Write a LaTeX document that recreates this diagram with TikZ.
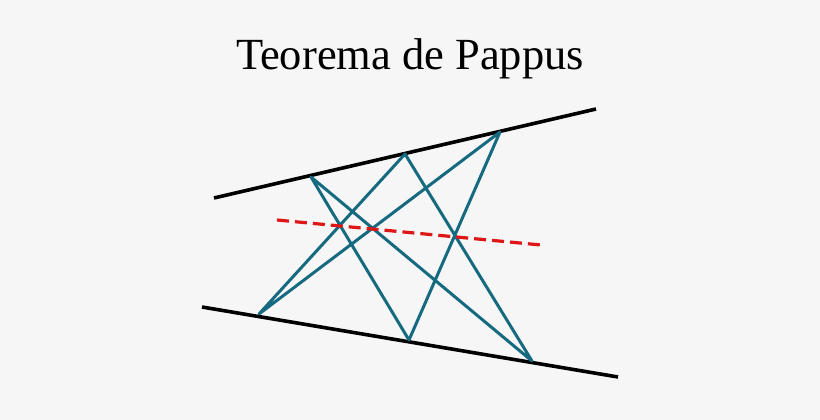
\documentclass[tikz,border=0pt]{standalone}
\usepackage{fontspec}
\setmainfont{Liberation Serif}
\definecolor{fondo}{RGB}{246,246,246}
\definecolor{azul}{RGB}{22,106,128}
\definecolor{rojo}{RGB}{222,22,22}
\begin{document}
\begin{tikzpicture}[x=1pt,y=-1pt]
    \fill [fondo] (0,0) rectangle (820,420);
    \useasboundingbox (0,0) rectangle (820,420);
    \node (titulo) at (410,59) {\fontsize{44.5}{52}\selectfont Teorema de Pappus};
    % rectas
    \coordinate (R1) at (214,198);
    \coordinate (R2) at (596,109);
    \coordinate (S1) at (202,307);
    \coordinate (S2) at (618,377);
    \draw [line width = 3.6] (R1) -- (R2);
    \draw [line width = 3.6] (S1) -- (S2);
    % puntos
    \coordinate (A1) at (311,177);
    \coordinate (A2) at (405,154);
    \coordinate (A3) at (500,132);
    \coordinate (B1) at (259,314);
    \coordinate (B2) at (409,340);
    \coordinate (B3) at (532,361);
    \draw [azul, line width = 3, line join = round] (B2) -- (A1) -- (B3) -- (A2) -- (B1) -- (A3) -- cycle;
    % recta de Pappus
    \coordinate (P1) at (277,220);
    \coordinate (P2) at (541,245);
    \draw [rojo, line width = 3.2, dash pattern = on 12pt off 6pt] (P1) -- (P2);
\end{tikzpicture}
\end{document}
